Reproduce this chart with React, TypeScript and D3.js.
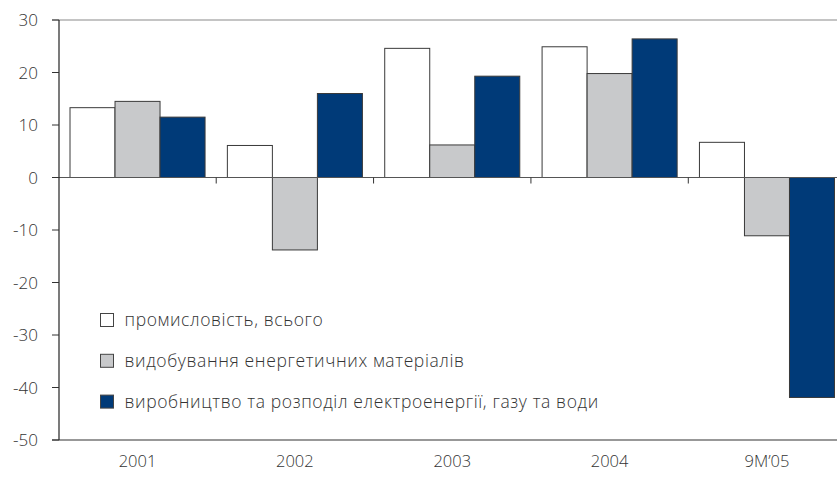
import React from "react";
import * as d3 from "d3";

const categories = ["2001", "2002", "2003", "2004", "9M’05"];
const seriesNames = [
  "промисловість, всього",
  "видобування енергетичних матеріалів",
  "виробництво та розподіл електроенергії, газу та води",
];
const industryTotal = [13.3, 6.1, 24.6, 24.9, 6.7];
const energyMining = [14.5, -13.8, 6.2, 19.8, -11.1];
const utilities = [11.5, 16.0, 19.3, 26.4, -41.9];
const yTicks = [30, 20, 10, 0, -10, -20, -30, -40, -50];
const colors = ["#ffffff", "#c8c9cb", "#003a78"];

const W = 837;
const H = 478;
const left = 59;
const top = 20;
const bottom = 440;
const step = 157.3;

export default function App() {
  const series = [industryTotal, energyMining, utilities];
  const y = d3.scaleLinear().domain([-50, 30]).range([bottom, top]);
  const x = d3
    .scaleBand<string>()
    .domain(categories)
    .range([left, left + step * categories.length])
    .paddingInner(22.3 / step)
    .paddingOuter(11 / step);
  const sub = d3
    .scaleBand<number>()
    .domain([0, 1, 2])
    .range([0, x.bandwidth()]);
  const font = "'Open Sans', sans-serif";
  const textColor = "#333";
  return (
    <svg
      width={W}
      height={H}
      style={{ position: "absolute", left: 0, top: 0, background: "#fff" }}
    >
      {/* top gridline */}
      <line x1={52} x2={W} y1={y(30)} y2={y(30)} stroke="#8a8a8a" strokeWidth={1.2} />
      {/* bars */}
      {categories.map((c, i) =>
        series.map((s, k) => {
          const v = s[i];
          const x0 = (x(c) as number) + (sub(k) as number);
          const y0 = y(Math.max(0, v));
          const h = Math.abs(y(v) - y(0));
          return (
            <rect
              key={c + k}
              x={x0}
              y={y0}
              width={sub.bandwidth()}
              height={h}
              fill={colors[k]}
              stroke="#3a3a3a"
              strokeWidth={1}
            />
          );
        })
      )}
      {/* zero line */}
      <line x1={52} x2={W} y1={y(0)} y2={y(0)} stroke="#555" strokeWidth={1.2} />
      {/* category ticks on zero line */}
      {categories.slice(1).map((c) => {
        const xx = (x(c) as number) - (x.step() * x.paddingInner()) / 2;
        return (
          <line key={"ct" + c} x1={xx} x2={xx} y1={y(0)} y2={y(0) + 6} stroke="#333" strokeWidth={1} />
        );
      })}
      {/* bottom axis */}
      <line x1={52} x2={W} y1={y(-50)} y2={y(-50)} stroke="#333" strokeWidth={1.2} />
      {/* y axis */}
      <line x1={left} x2={left} y1={y(30)} y2={y(-50)} stroke="#222" strokeWidth={1.2} />
      {yTicks.map((t) => (
        <g key={"yt" + t}>
          <line x1={52} x2={left} y1={y(t)} y2={y(t)} stroke="#333" strokeWidth={1} />
          <text
            x={38}
            y={y(t)}
            dy="0.36em"
            textAnchor="end"
            fontFamily={font}
            fontWeight={300}
            fontSize={17}
            fill={textColor}
          >
            {t}
          </text>
        </g>
      ))}
      {/* category labels */}
      {categories.map((c) => (
        <text
          key={"cl" + c}
          x={(x(c) as number) + x.bandwidth() / 2}
          y={467}
          textAnchor="middle"
          fontFamily={font}
          fontWeight={300}
          fontSize={16.5}
          fill={textColor}
        >
          {c}
        </text>
      ))}
      {/* legend */}
      {seriesNames.map((n, k) => (
        <g key={"lg" + k} transform={`translate(100.5, ${313.5 + k * 40.8})`}>
          <rect width={13} height={13} fill={colors[k]} stroke="#444" strokeWidth={1} />
          <text
            x={24}
            y={6.5}
            dy="0.36em"
            fontFamily={font}
            fontWeight={300}
            fontSize={17.5}
            letterSpacing={0.62}
            fill={textColor}
          >
            {n}
          </text>
        </g>
      ))}
    </svg>
  );
}
